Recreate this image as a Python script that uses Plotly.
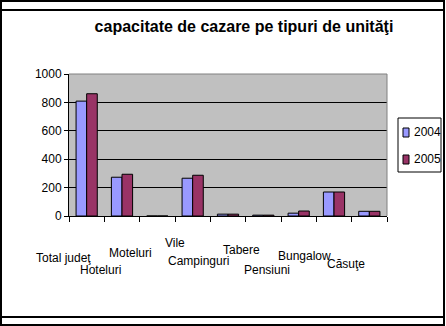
import plotly.graph_objects as go

categories = ["Total judeţ", "Hoteluri", "Moteluri", "Vile", "Campinguri",
              "Tabere", "Pensiuni", "Bungalow", "Căsuţe"]
series_names = ["2004", "2005"]
values_2004 = [809, 273, 0, 266, 13, 6, 20, 169, 33]
values_2005 = [861, 294, 0, 287, 13, 6, 35, 169, 33]
y_ticks = [0, 200, 400, 600, 800, 1000]
title_text = "capacitate de cazare pe tipuri de unităţi"

colors = ["#9999FF", "#993366"]
FONT = "Arial, Liberation Sans, sans-serif"

# plot area in pixels
L, R, T, B = 69, 387, 74, 216
W, H = 446, 326


def xp(px):
    return (px - L) / (R - L)


def yp(py):
    return (B - py) / (B - T)


fig = go.Figure()
for name, vals, col in zip(series_names, [values_2004, values_2005], colors):
    fig.add_trace(go.Bar(x=categories, y=vals, name=name,
                         marker=dict(color=col, line=dict(color="black", width=1)),
                         showlegend=False))

# staggered category labels (xshift px, y px centre)
label_layout = [(6, 258), (1, 270), (-3, 253), (-6, 243), (3, 261),
                (-1, 250), (-7, 270), (-1, 256), (-2, 264)]
annotations = []
for i, (cat, (dx, py)) in enumerate(zip(categories, label_layout)):
    annotations.append(dict(x=i, xref="x", y=yp(py), yref="paper",
                            text=cat, showarrow=False, xanchor="right",
                            yanchor="middle", xshift=dx,
                            font=dict(family=FONT, size=12, color="black")))

# manual legend
legend_rows = [(128, 137, 131.5), (155, 164, 158.5)]
shapes = []
for name, col, (y0, y1, yc) in zip(series_names, colors, legend_rows):
    shapes.append(dict(type="rect", xref="paper", yref="paper",
                       x0=xp(403), x1=xp(409), y0=yp(y0), y1=yp(y1),
                       fillcolor=col, line=dict(color="black", width=1)))
    annotations.append(dict(x=xp(412), y=yp(yc), xref="paper", yref="paper",
                            text=name, showarrow=False, xanchor="left",
                            yanchor="middle",
                            font=dict(family=FONT, size=12, color="black")))
shapes.append(dict(type="rect", xref="paper", yref="paper",
                   x0=xp(398), x1=xp(441), y0=yp(118), y1=yp(172),
                   line=dict(color="black", width=1), fillcolor="rgba(0,0,0,0)"))

# plot area top/right border (grey)
shapes.append(dict(type="line", xref="paper", yref="paper", x0=0, x1=1, y0=1, y1=1,
                   line=dict(color="#808080", width=1)))
shapes.append(dict(type="line", xref="paper", yref="paper", x0=1, x1=1, y0=0, y1=1,
                   line=dict(color="#808080", width=1)))

# outer frame
shapes.append(dict(type="rect", xref="paper", yref="paper",
                   x0=xp(1), x1=xp(444), y0=yp(1), y1=yp(325),
                   line=dict(color="black", width=2), fillcolor="rgba(0,0,0,0)"))
for py in (10, 317):
    shapes.append(dict(type="line", xref="paper", yref="paper",
                       x0=xp(1), x1=xp(444), y0=yp(py), y1=yp(py),
                       line=dict(color="black", width=2)))

fig.update_layout(
    width=W, height=H,
    margin=dict(l=L, r=W - R, t=T, b=H - B, pad=0),
    paper_bgcolor="white", plot_bgcolor="#C0C0C0",
    barmode="group", bargap=0.4, bargroupgap=0,
    font=dict(family=FONT, size=12, color="black"),
    title=dict(text="<b>" + title_text + "</b>", x=244 / W, xref="container",
               xanchor="center", y=1 - 26 / H, yref="container", yanchor="middle",
               font=dict(family=FONT, size=16, color="black")),
    xaxis=dict(type="category", range=[-0.5, len(categories) - 0.5],
               showticklabels=False, ticks="outside", tickson="boundaries",
               ticklen=5, tickcolor="black", showline=True, linecolor="black",
               linewidth=1, showgrid=False, zeroline=False),
    yaxis=dict(range=[0, 1000], tickvals=y_ticks, ticks="outside", ticklen=4,
               tickcolor="black", showline=True, linecolor="black", linewidth=1,
               showgrid=True, gridcolor="black", gridwidth=1, zeroline=False,
               tickfont=dict(family=FONT, size=12, color="black")),
    shapes=shapes, annotations=annotations,
)

fig.write_html("out.html")
